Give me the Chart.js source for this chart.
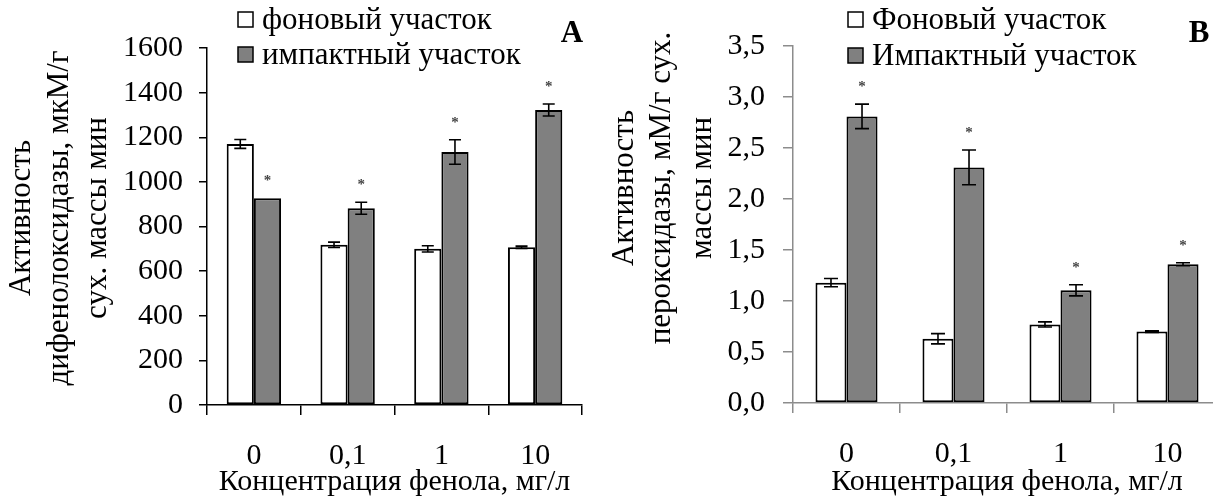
<!DOCTYPE html>
<html>
<head>
<meta charset="utf-8">
<script src="https://cdn.jsdelivr.net/npm/chart.js@4"></script>
<style>
  html, body { margin: 0; padding: 0; background: #fff; overflow: hidden; }
  #wrap { position: relative; width: 1213px; height: 503px; overflow: hidden; }
  canvas { position: absolute; top: 0; }
  #chartA { left: 0; }
  #chartB { left: 600px; }
</style>
</head>
<body>
<div id="wrap">
  <canvas id="chartA" width="600" height="503"></canvas>
  <canvas id="chartB" width="630" height="503"></canvas>
</div>
<script>
const categories = ["0", "0,1", "1", "10"];

// panel A - diphenol oxidase
const backgroundA = [1170, 718, 700, 707];
const backgroundAErr = [20, 12, 14, 5];
const impactA = [927, 882, 1134, 1322];
const impactAErr = [0, 27, 55, 27];
const impactAStars = [true, true, true, true];
const yTicksA = { min: 0, max: 1600, step: 200 };

// panel B - peroxidase
const backgroundB = [1.18, 0.63, 0.77, 0.70];
const backgroundBErr = [0.04, 0.05, 0.025, 0.008];
const impactB = [2.81, 2.31, 1.105, 1.36];
const impactBErr = [0.12, 0.17, 0.055, 0.015];
const impactBStars = [true, true, true, true];
const yTicksB = { min: 0, max: 3.5, step: 0.5 };

const serif = "'Liberation Serif', 'Times New Roman', serif";

// error bars, stars, legend, panel letter and y title
const extras = {
  id: "extras",
  afterDatasetsDraw(chart, args, opts) {
    const ctx = chart.ctx;
    const y = chart.scales.y;
    chart.data.datasets.forEach((ds, i) => {
      const meta = chart.getDatasetMeta(i);
      meta.data.forEach((bar, j) => {
        const v = ds.data[j];
        const e = ds.errors[j];
        const top = y.getPixelForValue(v + e);
        ctx.save();
        if (e > 0) {
          const bot = y.getPixelForValue(v - e);
          ctx.strokeStyle = "#000";
          ctx.lineWidth = 1.6;
          ctx.beginPath();
          ctx.moveTo(bar.x, top); ctx.lineTo(bar.x, bot);
          ctx.moveTo(bar.x - opts.cap, top); ctx.lineTo(bar.x + opts.cap, top);
          ctx.moveTo(bar.x - opts.cap, bot); ctx.lineTo(bar.x + opts.cap, bot);
          ctx.stroke();
        }
        if (ds.stars && ds.stars[j]) {
          ctx.fillStyle = "#444";
          ctx.font = "bold 15px " + serif;
          ctx.textAlign = "center";
          ctx.textBaseline = "middle";
          ctx.fillText("*", bar.x, top - 17);
        }
        ctx.restore();
      });
    });
  },
  afterDraw(chart, args, opts) {
    const ctx = chart.ctx;
    ctx.save();
    // legend
    ctx.font = "31px " + serif;
    ctx.textBaseline = "middle";
    ctx.textAlign = "left";
    chart.data.datasets.forEach((ds, i) => {
      const cy = opts.legendY + i * opts.legendGap;
      ctx.fillStyle = ds.backgroundColor;
      ctx.strokeStyle = "#000";
      ctx.lineWidth = 1.5;
      ctx.fillRect(opts.legendX, cy - 7.5, 15, 15);
      ctx.strokeRect(opts.legendX, cy - 7.5, 15, 15);
      ctx.fillStyle = "#000";
      ctx.fillText(ds.label, opts.legendX + 24, cy + 1);
    });
    // panel letter
    ctx.font = "bold 31px " + serif;
    ctx.textAlign = "center";
    ctx.fillText(opts.letter, opts.letterX, 34);
    // y axis title
    ctx.font = "31px " + serif;
    opts.yTitle.forEach((line, k) => {
      ctx.save();
      ctx.translate(opts.yTitleX[k], opts.yTitleY);
      ctx.rotate(-Math.PI / 2);
      ctx.fillText(line, 0, 0);
      ctx.restore();
    });
    ctx.restore();
  }
};

function makeChart(id, sets, ticks, look) {
  return new Chart(document.getElementById(id), {
    type: "bar",
    data: {
      labels: categories,
      datasets: sets.map(s => ({
        label: s.label,
        data: s.data,
        errors: s.errors,
        stars: s.stars,
        backgroundColor: s.color,
        borderColor: "#000",
        borderWidth: 2,
        borderSkipped: false,
        categoryPercentage: 0.58,
        barPercentage: 1
      }))
    },
    options: {
      responsive: false,
      animation: false,
      layout: { padding: { top: look.top, right: look.right, left: 0, bottom: 0 } },
      plugins: {
        legend: { display: false },
        tooltip: { enabled: false },
        extras: look.extras
      },
      scales: {
        x: {
          afterFit: s => { s.height = look.xHeight; },
          grid: { drawOnChartArea: false, tickLength: 10, color: look.axisColor, lineWidth: look.axisWidth },
          border: { color: look.axisColor, width: look.axisWidth },
          ticks: { color: "#000", font: { family: serif, size: 30 }, padding: 23 },
          title: { display: true, text: "Концентрация фенола, мг/л", color: "#000",
                   font: { family: serif, size: 30 }, padding: { top: 0, bottom: 3 } }
        },
        y: {
          min: ticks.min,
          max: ticks.max,
          afterFit: s => { s.width = look.yWidth; },
          grid: { drawOnChartArea: false, tickLength: look.yTick, color: look.axisColor, lineWidth: look.axisWidth },
          border: { color: look.axisColor, width: look.axisWidth },
          ticks: {
            stepSize: ticks.step,
            color: "#000",
            padding: look.yPad,
            font: { family: serif, size: 30 },
            callback: v => look.decimals ? v.toFixed(1).replace(".", ",") : String(v)
          }
        }
      }
    },
    plugins: [extras]
  });
}

makeChart("chartA", [
  { label: "фоновый участок", data: backgroundA, errors: backgroundAErr, color: "#ffffff" },
  { label: "импактный участок", data: impactA, errors: impactAErr, stars: impactAStars, color: "#808080" }
], yTicksA, {
  top: 48, right: 18, xHeight: 98, yWidth: 207, yTick: 8, yPad: 16,
  axisColor: "#000", axisWidth: 1.5, decimals: false,
  extras: {
    cap: 6,
    legendX: 238, legendY: 19.5, legendGap: 35,
    letter: "A", letterX: 572,
    yTitle: ["Активность", "дифенолоксидазы, мкМ/г", "сух. массы мин"],
    yTitleX: [22, 60, 98], yTitleY: 218
  }
});

makeChart("chartB", [
  { label: "Фоновый участок", data: backgroundB, errors: backgroundBErr, color: "#ffffff" },
  { label: "Импактный участок", data: impactB, errors: impactBErr, stars: impactBStars, color: "#808080" }
], yTicksB, {
  top: 46, right: 9, xHeight: 100, yWidth: 193, yTick: 10, yPad: 18,
  axisColor: "#8c8c8c", axisWidth: 1.5, decimals: true,
  extras: {
    cap: 7,
    legendX: 248, legendY: 19.5, legendGap: 36,
    letter: "B", letterX: 599,
    yTitle: ["Активность", "пероксидазы, мМ/г сух.", "массы мин"],
    yTitleX: [25, 62, 103], yTitleY: 188
  }
});
</script>
</body>
</html>
